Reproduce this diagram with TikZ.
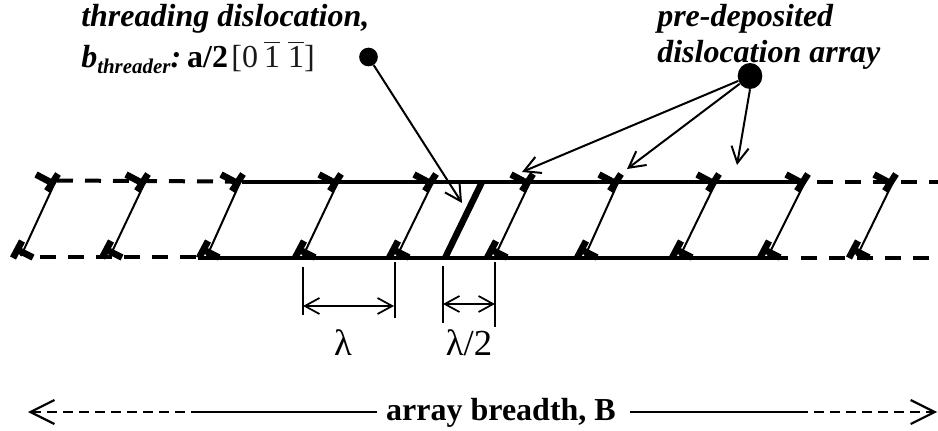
\documentclass[tikz,border=0pt]{standalone}
\usepackage{fontspec}
\setmainfont{Liberation Serif}
\usetikzlibrary{arrows.meta,shapes.geometric}
\newcommand{\ovbar}[1]{$\overline{\mbox{\rule{0pt}{0.74em}#1}}$}
\tikzset{
  x=0.75pt,y=-0.75pt,
  solidrail/.style={line width=3pt},
  dashrail/.style={line width=3pt,dash pattern=on 12pt off 9pt},
  slip/.style={line width=1.5pt},
  boldslip/.style={line width=4.8pt},
  tbar/.style={line width=5pt},
  dimline/.style={line width=1.3pt},
  barb/.style={line width=1.5pt,-{Straight Barb[length=12pt,width=13pt,line width=1.5pt]}},
  bothbarb/.style={line width=1.3pt,{Straight Barb[length=11pt,width=12pt,line width=1.3pt]}-{Straight Barb[length=11pt,width=12pt,line width=1.3pt]}},
  label it/.style={font=\bfseries\itshape\fontsize{24pt}{26pt}\selectfont,anchor=base west,inner sep=0pt},
  label bd/.style={font=\bfseries\fontsize{24pt}{26pt}\selectfont,inner sep=0pt},
  label gr/.style={font=\fontsize{27.5pt}{29pt}\selectfont,inner sep=0pt,anchor=base},
  dotmark/.style={circle,fill=black,inner sep=0pt,minimum size=14pt},
  blobmark/.style={ellipse,fill=black,inner sep=0pt,minimum width=18.5pt,minimum height=19.5pt},
  breadthsolid/.style={line width=2.2pt},
  breadthdash/.style={line width=1.6pt,dash pattern=on 7.5pt off 4.5pt},
}
\begin{document}
\begin{tikzpicture}
\useasboundingbox (0,0) rectangle (938,431);
% rails
\coordinate (tl) at (57,180.5);
\coordinate (ts) at (242,181.6);
\coordinate (te) at (806,181.6);
\coordinate (td) at (817,181.6);
\coordinate (tr) at (938,181.6);
\coordinate (bl) at (40,257);
\coordinate (bs) at (198,258);
\coordinate (be) at (788,258);
\coordinate (bd) at (801,258);
\coordinate (bf) at (930,258);
\draw[dashrail] (tl) -- (ts);
\draw[solidrail] (ts) -- (te);
\draw[dashrail] (td) -- (tr);
\draw[dashrail] (bl) -- (bl-|bs);
\draw[solidrail] (bs) -- (be);
\draw[dashrail] (bd) -- (bf);
% dislocations
\foreach \tx/\bx in {57/21,147/110,242/207,340/303,435/397,532/495,620/585,718/680,807/768,895/857}{
  \draw[slip] (\tx+1,176) -- (\bx,256);
  \draw[tbar] (\tx+1,174) -- (\tx-10,191);
  \draw[tbar] (\tx-5,183) -- (\tx-21,174.5);
  \draw[tbar] (\bx+1,241) -- (\bx-8,258);
  \draw[tbar] (\bx-3,250) -- (\bx+12,257.5);
}
% threader
\draw[boldslip] (482,182) -- (445,258);
% threading label
\node[label it] (tlab) at (81,27) {threading dislocation,};
\node[label it] (blab) at (81,68) {b\raisebox{-0.16em}{\fontsize{15.7pt}{17pt}\selectfont threader}:\hspace{4.5pt}\textup{a/2}\hspace{2.5pt}{\mdseries\upshape\color{black!90}\fontsize{24pt}{26pt}\selectfont [0\hspace{4.5pt}\ovbar{1}\hspace{6pt}\ovbar{1}]}};
\node[dotmark] (dot) at (368.5,57) {};
\coordinate (dtip) at (462,203);
\draw[barb] (dot) -- (dtip);
% array label
\node[label it] (plab) at (657,27) {pre-deposited};
\node[label it] (alab) at (657,63) {dislocation array};
\node[blobmark] (blob) at (750,76) {};
\coordinate (a1) at (522,172);
\coordinate (a2) at (627,169);
\coordinate (a3) at (737,165);
\draw[barb] (blob) -- (a1);
\draw[barb] (blob) -- (a2);
\draw[barb] (blob.south) -- (a3);
% lambda dimensions
\coordinate (l1a) at (303,267); \coordinate (l1b) at (303,315);
\coordinate (l2a) at (395,262); \coordinate (l2b) at (395,318);
\coordinate (l3a) at (443,266); \coordinate (l3b) at (443,323);
\coordinate (l4a) at (495,262); \coordinate (l4b) at (495,327);
\draw[dimline] (l1a) -- (l1b);
\draw[dimline] (l2a) -- (l2b);
\draw[dimline] (l3a) -- (l3b);
\draw[dimline] (l4a) -- (l4b);
\coordinate (d1a) at (303,306); \coordinate (d1b) at (394,306);
\coordinate (d2a) at (443,304); \coordinate (d2b) at (495,304);
\draw[bothbarb] (d1a) -- (d1b);
\draw[bothbarb] (d2a) -- (d2b);
\node[label gr] (lam) at (343,355) {λ};
\node[label gr] (lamh) at (469,355) {λ/2};
% breadth
\node[label bd,anchor=base] (bb) at (501,420) {array breadth, B};
\coordinate (bl0) at (28,412);
\coordinate (bl1) at (197,412);
\coordinate (bl2) at (377,412);
\coordinate (br0) at (630,412);
\coordinate (br1) at (798,412);
\coordinate (br2) at (937,412);
\draw[breadthdash,{Straight Barb[length=18pt,width=18pt,line width=1.6pt]}-] (bl0) -- (bl1);
\draw[breadthsolid] (bl1) -- (bl2);
\draw[breadthsolid] (br0) -- (br1);
\draw[breadthdash,-{Straight Barb[length=18pt,width=18pt,line width=1.6pt]}] (br1) -- (br2);
\end{tikzpicture}
\end{document}
